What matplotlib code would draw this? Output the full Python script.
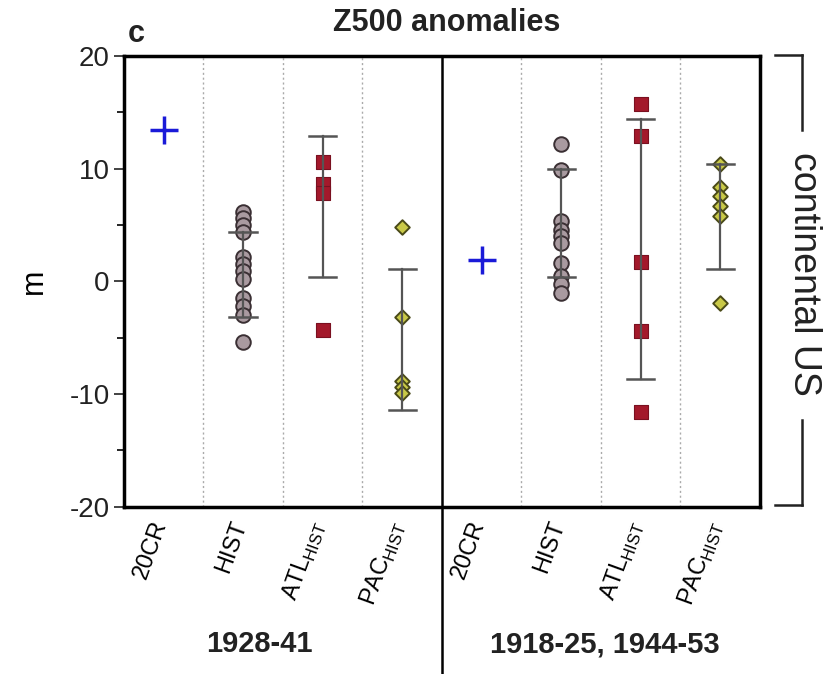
import matplotlib
matplotlib.use("Agg")
import matplotlib.pyplot as plt
import matplotlib.transforms as mtransforms
from matplotlib.lines import Line2D

plt.rcParams['font.family'] = ['Liberation Sans', 'DejaVu Sans']
plt.rcParams['axes.unicode_minus'] = False

# column labels, two periods of four columns each
labels = ['20CR', 'HIST', 'ATL$_{\\mathregular{HIST}}$', 'PAC$_{\\mathregular{HIST}}$'] * 2
periods = ['1928-41', '1918-25, 1944-53']

# 20CR reanalysis value for each period (m)
cr20 = [13.4, 1.9]

# ensemble members (m)
hist_p1 = [6.2, 5.6, 5.0, 4.4, 2.2, 1.5, 0.9, 0.2, -1.5, -2.2, -3.0, -5.4]
hist_p2 = [12.2, 9.9, 5.4, 4.6, 4.0, 3.4, 1.6, 0.5, -0.2, -1.0]
atl_p1 = [10.6, 8.6, 7.8, -4.3]
atl_p2 = [15.7, 12.9, 1.7, -4.4, -11.6]
pac_p1 = [4.8, -3.2, -8.8, -9.4, -9.9]
pac_p2 = [10.4, 8.4, 7.6, 6.7, 5.8, -1.9]

# spread bars (lower, upper) for HIST, ATL, PAC in each period
bar_lo = [-3.2, 0.4, -11.4, 0.4, -8.7, 1.1]
bar_hi = [4.4, 12.9, 1.1, 10.0, 14.4, 10.4]

hist_style = dict(marker='o', s=110, facecolor='#a99aa0', edgecolor='#3a2f33', linewidths=1.4)
atl_style = dict(marker='s', s=90, facecolor='#a3192b', edgecolor='#7a1020', linewidths=0.8)
pac_style = dict(marker='D', s=55, facecolor='#c9c948', edgecolor='#4a4a18', linewidths=1.4)

fig = plt.figure(figsize=(8.25, 6.74), dpi=100)
ax = fig.add_axes([0.150, 0.248, 0.771, 0.669])

# 20CR crosses
ax.scatter([1, 5], cr20, marker='+', s=420, color='#1a1ad8', linewidths=2.5, zorder=4)

groups = [(2, hist_p1, hist_style), (3, atl_p1, atl_style), (4, pac_p1, pac_style),
          (6, hist_p2, hist_style), (7, atl_p2, atl_style), (8, pac_p2, pac_style)]
for i, (x, vals, style) in enumerate(groups):
    ax.scatter([x] * len(vals), vals, zorder=3, **style)
    ax.plot([x, x], [bar_lo[i], bar_hi[i]], color='#555555', lw=1.6, zorder=4)
    for yv in (bar_lo[i], bar_hi[i]):
        ax.plot([x - 0.17, x + 0.17], [yv, yv], color='#555555', lw=1.8, zorder=4)

# column separators
for xs in [1.5, 2.5, 3.5, 5.5, 6.5, 7.5]:
    ax.axvline(xs, color='#aaaaaa', lw=1.0, ls=(0, (1.5, 2)), zorder=1)
ax.axvline(4.5, color='black', lw=1.8, zorder=2)
ax.add_line(Line2D([4.5, 4.5], [-20, -35], color='black', lw=1.8, clip_on=False))

ax.set_xlim(0.5, 8.5)
ax.set_ylim(-20, 20)
ax.set_yticks([-20, -10, 0, 10, 20])
ax.set_yticks([-15, -5, 5, 15], minor=True)
ax.tick_params(axis='y', direction='out', length=7, width=1.2, labelsize=20, colors='#222222', pad=3)
ax.tick_params(axis='y', which='minor', direction='out', length=5, width=1.2)
ax.set_xticks(range(1, 9))
ax.set_xticklabels(labels, rotation=70, ha='right', va='top', fontsize=17)
ax.tick_params(axis='x', length=0, pad=8)
shift = mtransforms.ScaledTranslation(8 / 100, 0, fig.dpi_scale_trans)
for lab in ax.get_xticklabels():
    lab.set_transform(lab.get_transform() + shift)
for sp in ax.spines.values():
    sp.set_linewidth(2.5)
ax.set_ylabel('m', fontsize=22)
ax.yaxis.set_label_coords(-0.118, 0.5)

# period labels
for xc, txt in zip([2.2, 6.55], periods):
    ax.text(xc, -32.2, txt, ha='center', va='center', fontsize=21, fontweight='bold', color='#222222')

fig.text(0.542, 0.966, 'Z500 anomalies', ha='center', va='center', fontsize=22, fontweight='bold',
         color='#222222')
fig.text(0.165, 0.950, 'c', ha='center', va='center', fontsize=22, fontweight='bold', color='#222222')

# region bracket on the right
bx = 0.972
y_top, y_bot = 1 - 55 / 674, 1 - 505 / 674
kw = dict(color='#222222', lw=1.8, transform=fig.transFigure)
fig.add_artist(Line2D([0.939, bx], [y_top, y_top], **kw))
fig.add_artist(Line2D([bx, bx], [y_top, 1 - 130 / 674], **kw))
fig.add_artist(Line2D([bx, bx], [1 - 420 / 674, y_bot], **kw))
fig.add_artist(Line2D([0.939, bx], [y_bot, y_bot], **kw))
fig.text(bx + 0.003, 1 - 274 / 674, 'continental US', rotation=270, ha='center', va='center', fontsize=27,
         color='#222222', bbox=dict(facecolor='white', edgecolor='none', pad=1))

fig.savefig('out.png', dpi=100)
